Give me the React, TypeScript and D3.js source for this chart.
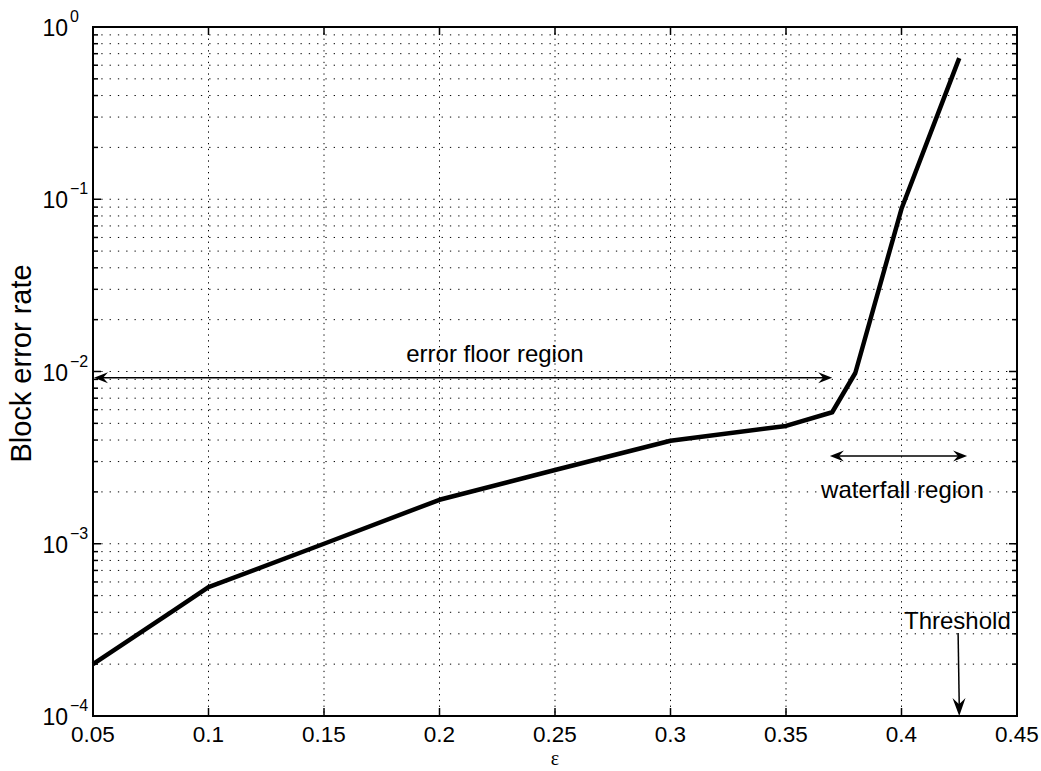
import React from "react";
import * as d3 from "d3";

const epsilon = [0.05, 0.085, 0.1, 0.15, 0.2, 0.25, 0.3, 0.35, 0.37, 0.38, 0.4, 0.425];
const blockErrorRate = [2.0e-4, 4.1e-4, 5.6e-4, 1.0e-3, 1.8e-3, 2.68e-3, 3.96e-3, 4.83e-3, 5.8e-3, 9.8e-3, 8.8e-2, 0.66];
const xTicks = [0.05, 0.1, 0.15, 0.2, 0.25, 0.3, 0.35, 0.4, 0.45];
const xTickLabels = ["0.05", "0.1", "0.15", "0.2", "0.25", "0.3", "0.35", "0.4", "0.45"];
const yDecades = [-4, -3, -2, -1, 0];

const W = 1041, H = 771;
const L = 93, R = 1017, T = 27, B = 716;
const FONT = "'Liberation Sans', Arial, Helvetica, sans-serif";

function arrowHead(x: number, y: number, dx: number, dy: number, len = 14, half = 5.5) {
  const n = Math.hypot(dx, dy);
  const ux = dx / n, uy = dy / n;
  const px = -uy, py = ux;
  const bx = x - ux * len, by = y - uy * len;
  const nx = x - ux * len * 0.65, ny = y - uy * len * 0.65;
  return `M${x},${y}L${bx + px * half},${by + py * half}L${nx},${ny}L${bx - px * half},${by - py * half}Z`;
}

export default function App() {
  const x = d3.scaleLinear().domain([0.05, 0.45]).range([L, R]);
  const y = d3.scaleLog().domain([1e-4, 1]).range([B, T]);

  const minors: number[] = [];
  for (const d of yDecades.slice(0, -1)) for (let m = 2; m <= 9; m++) minors.push(m * Math.pow(10, d));
  const majors = yDecades.map((d) => Math.pow(10, d));

  const line = d3.line<number>().x((_, i) => x(epsilon[i])).y((v) => y(v));

  const efY = y(9.2e-3);
  const efX1 = x(0.05) + 1, efX2 = x(0.37);
  const wfY = y(3.23e-3);
  const wfX1 = x(0.369), wfX2 = x(0.4284);
  const thX1 = x(0.4245), thY1 = y(3.03e-4), thX2 = x(0.425), thY2 = y(1e-4);

  return (
    <svg width={W} height={H} style={{ position: "absolute", left: 0, top: 0, background: "#fff" }} fontFamily={FONT}>
      <rect x={0} y={0} width={W} height={H} fill="#fff" />
      {/* grid */}
      {[...majors, ...minors].filter((v) => v < 1 && v > 1e-4).map((v, i) => (
        <line key={"gy" + i} x1={L} x2={R} y1={y(v)} y2={y(v)} stroke="#000" strokeWidth={1} strokeDasharray="1.3 7" />
      ))}
      {xTicks.slice(1, -1).map((v, i) => (
        <line key={"gx" + i} x1={x(v)} x2={x(v)} y1={T} y2={B} stroke="#000" strokeWidth={1} strokeDasharray="1.3 4.5" />
      ))}
      {/* ticks */}
      {xTicks.map((v, i) => (
        <g key={"xt" + i}>
          <line x1={x(v)} x2={x(v)} y1={B} y2={B - 8} stroke="#000" strokeWidth={1.5} />
          <line x1={x(v)} x2={x(v)} y1={T} y2={T + 8} stroke="#000" strokeWidth={1.5} />
          <text x={x(v)} y={B + 26} fontSize={22.5} textAnchor="middle">{xTickLabels[i]}</text>
        </g>
      ))}
      {majors.map((v, i) => (
        <g key={"ymj" + i}>
          <line x1={L} x2={L + 8} y1={y(v)} y2={y(v)} stroke="#000" strokeWidth={1.5} />
          <line x1={R} x2={R - 8} y1={y(v)} y2={y(v)} stroke="#000" strokeWidth={1.5} />
          <text x={68} y={y(v) + 9} fontSize={23} textAnchor="end">10</text>
          <text x={70} y={y(v) - 5} fontSize={16} textAnchor="start">{yDecades[i] === 0 ? "0" : "\u2212" + Math.abs(yDecades[i])}</text>
        </g>
      ))}
      {minors.map((v, i) => (
        <g key={"ymn" + i}>
          <line x1={L} x2={L + 5} y1={y(v)} y2={y(v)} stroke="#000" strokeWidth={1.5} />
          <line x1={R} x2={R - 5} y1={y(v)} y2={y(v)} stroke="#000" strokeWidth={1.5} />
        </g>
      ))}
      {/* box */}
      <rect x={L} y={T} width={R - L} height={B - T} fill="none" stroke="#000" strokeWidth={2} />
      {/* data */}
      <path d={line(blockErrorRate) || ""} fill="none" stroke="#000" strokeWidth={4.5} strokeLinejoin="round" />
      {/* error floor arrow */}
      <line x1={efX1 + 8} x2={efX2 - 8} y1={efY} y2={efY} stroke="#000" strokeWidth={1.5} />
      <path d={arrowHead(efX2, efY, 1, 0)} fill="#000" />
      <path d={arrowHead(efX1, efY, -1, 0)} fill="#000" />
      <text x={x(0.224)} y={efY - 16} fontSize={24} textAnchor="middle">error floor region</text>
      {/* waterfall arrow */}
      <line x1={wfX1 + 8} x2={wfX2 - 8} y1={wfY} y2={wfY} stroke="#000" strokeWidth={1.5} />
      <path d={arrowHead(wfX2, wfY, 1, 0)} fill="#000" />
      <path d={arrowHead(wfX1, wfY, -1, 0)} fill="#000" />
      <text x={x(0.4004)} y={wfY + 42} fontSize={24} textAnchor="middle">waterfall region</text>
      {/* threshold */}
      <line x1={thX1} x2={thX2} y1={thY1} y2={thY2 - 10} stroke="#000" strokeWidth={1.5} />
      <path d={arrowHead(thX2, thY2, thX2 - thX1, thY2 - thY1, 18, 6.5)} fill="#000" />
      <text x={904} y={thY1 - 4} fontSize={24} textAnchor="start">Threshold</text>
      {/* axis labels */}
      <text transform={`translate(31,${(T + B) / 2 - 8}) rotate(-90)`} fontSize={29} textAnchor="middle">Block error rate</text>
      <text x={(L + R) / 2} y={765} fontSize={20} textAnchor="middle" fontFamily="'Liberation Serif', 'DejaVu Serif', serif">ε</text>
    </svg>
  );
}
